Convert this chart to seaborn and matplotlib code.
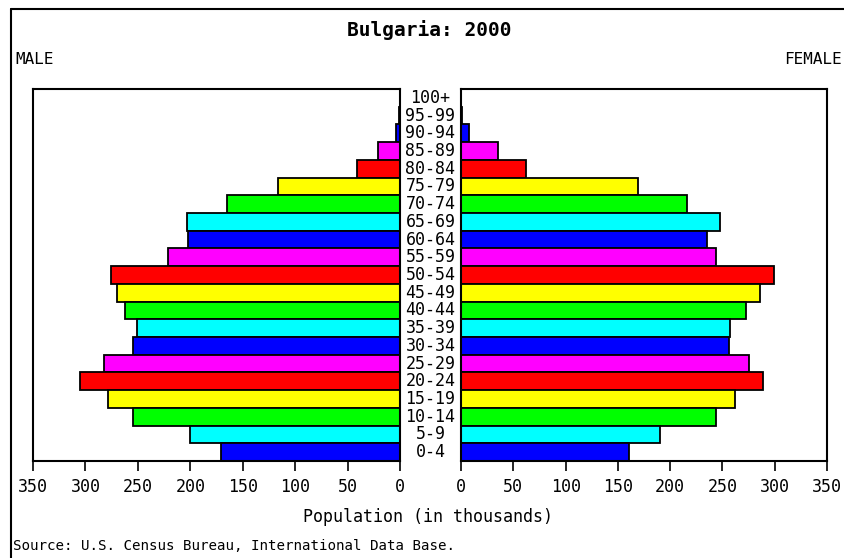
import matplotlib
matplotlib.use("Agg")
import matplotlib.pyplot as plt
import matplotlib.transforms as mtransforms
from matplotlib.lines import Line2D
import seaborn as sns
import pandas as pd

# Age groups, top to bottom
age_groups = ["100+", "95-99", "90-94", "85-89", "80-84", "75-79", "70-74",
              "65-69", "60-64", "55-59", "50-54", "45-49", "40-44", "35-39",
              "30-34", "25-29", "20-24", "15-19", "10-14", "5-9", "0-4"]
male = [0.1, 0.5, 4, 21, 41, 116, 165, 203, 202, 221, 276, 270, 262, 251,
        255, 282, 305, 278, 255, 200, 171]
female = [0.1, 0.5, 8, 35, 62, 169, 216, 248, 235, 244, 299, 286, 273, 257,
          256, 275, 289, 262, 244, 190, 161]
color_cycle = ["#0000FF", "#00FFFF", "#00FF00", "#FFFF00", "#FF0000", "#FF00FF"]
x_ticks = [0, 50, 100, 150, 200, 250, 300, 350]

title = "Bulgaria: 2000"
xlabel = "Population (in thousands)"
source = "Source: U.S. Census Bureau, International Data Base."

sns.set_style("white")
plt.rcParams["font.family"] = ["DejaVu Sans Mono", "DejaVu Sans"]
plt.rcParams["text.color"] = "black"
plt.rcParams["xtick.color"] = "black"
plt.rcParams["xtick.labelcolor"] = "black"

n = len(age_groups)
palette = {g: color_cycle[(n - 1 - i) % 6] for i, g in enumerate(age_groups)}
df = pd.DataFrame({"age": age_groups, "male": male, "female": female})

fig = plt.figure(figsize=(8.45, 5.58), dpi=100)
ax_m = fig.add_axes([33 / 845, 1 - 461 / 558, 367 / 845, 372 / 558])
ax_f = fig.add_axes([461 / 845, 1 - 461 / 558, 366 / 845, 372 / 558])

for ax, col in ((ax_m, "male"), (ax_f, "female")):
    sns.barplot(data=df, x=col, y="age", hue="age", palette=palette,
                order=age_groups, hue_order=age_groups, dodge=False,
                legend=False, orient="h", width=1.0, edgecolor="black",
                linewidth=1.3, saturation=1, ax=ax)
    ax.set_ylim(n - 0.5, -0.5)
    ax.set_xticks(x_ticks)
    ax.set_xticklabels([str(t) for t in x_ticks])
    ax.set_yticks([])
    ax.set_xlabel("")
    ax.set_ylabel("")
    for s in ax.spines.values():
        s.set_visible(True)
        s.set_color("black")
        s.set_linewidth(1.5)
    ax.tick_params(axis="x", direction="out", length=7, width=1.2,
                   pad=5, labelsize=12, colors="black", bottom=True)

ax_m.set_xlim(350, 0)
ax_f.set_xlim(0, 350)

trans = mtransforms.blended_transform_factory(fig.transFigure, ax_m.transData)
for i, g in enumerate(age_groups):
    ax_m.text(430.5 / 845, i, g, transform=trans, ha="center", va="center",
              fontsize=12, clip_on=False, color="black")

fig.text(429 / 845, 1 - 30 / 558, title, ha="center", va="center",
         fontsize=14, fontweight="bold", color="black")
fig.text(15 / 845, 1 - 60 / 558, "MALE", ha="left", va="center",
         fontsize=11.5, color="black")
fig.text(842 / 845, 1 - 60 / 558, "FEMALE", ha="right", va="center",
         fontsize=11.5, color="black")
fig.text(428 / 845, 1 - 517 / 558, xlabel, ha="center", va="center",
         fontsize=12, color="black")
fig.text(13 / 845, 1 - 546 / 558, source, ha="left", va="center",
         fontsize=10.2, color="black")

fig.add_artist(Line2D([11 / 845, 1], [1 - 9 / 558, 1 - 9 / 558],
                      transform=fig.transFigure, color="black", linewidth=1.5))
fig.add_artist(Line2D([11 / 845, 11 / 845], [0, 1 - 9 / 558],
                      transform=fig.transFigure, color="black", linewidth=1.5))

fig.savefig("out.png", dpi=100, facecolor="white")
